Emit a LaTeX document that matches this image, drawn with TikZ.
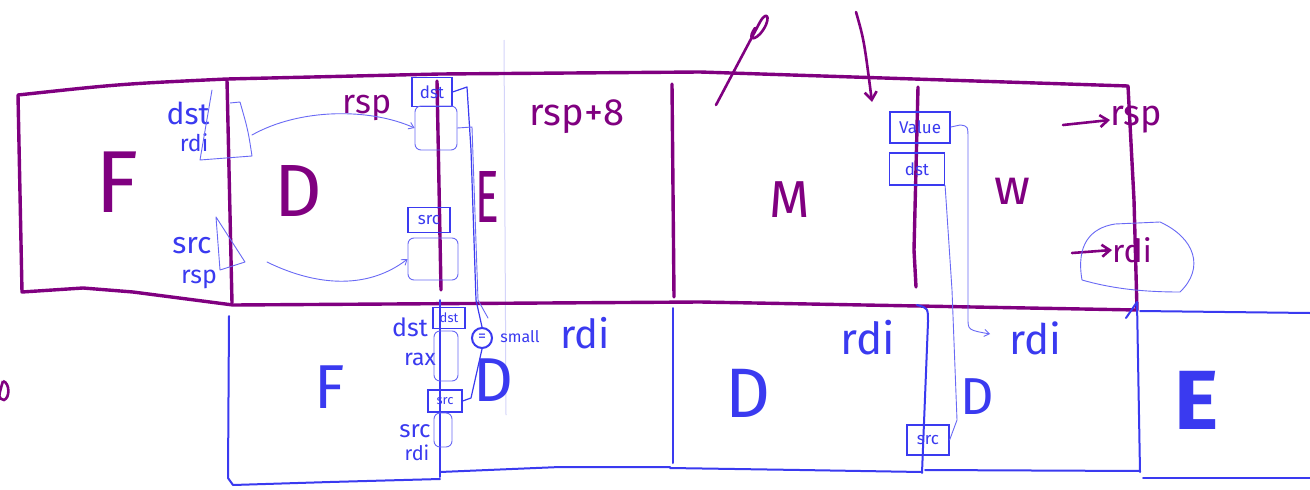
\documentclass[tikz,border=0pt]{standalone}
\usepackage{fontspec}
\setmainfont{Fira Sans}
\usetikzlibrary{arrows.meta}
\definecolor{pur}{RGB}{128,0,128}
\definecolor{blu}{RGB}{58,58,240}
\definecolor{lblu}{RGB}{105,105,245}
\definecolor{vlblu}{RGB}{212,212,250}
\newcommand{\fs}[1]{\fontsize{#1}{#1}\selectfont}
\begin{document}
\begin{tikzpicture}[x=1pt,y=-1pt,
  pline/.style={draw=pur,line width=3.4pt,line cap=round,line join=round},
  parrow/.style={draw=pur,line width=2.6pt,line cap=round,line join=round,-{Straight Barb[length=8pt,width=12pt]}},
  bline/.style={draw=blu,line width=2pt,line cap=round,line join=round},
  tline/.style={draw=lblu,line width=0.9pt,line cap=round,line join=round},
  tarrow/.style={tline,-{Straight Barb[length=5pt,width=7pt]}},
  ptext/.style={text=pur,inner sep=0pt},
  btext/.style={text=blu,inner sep=0pt},
  tag/.style={draw=blu,line width=1.2pt,text=blu,inner sep=0pt,font=\fs{17}},
  slot/.style={draw=lblu,line width=0.9pt,rounded corners=6pt,inner sep=0pt},
]
\useasboundingbox (0,0) rectangle (1310,490);
\fill[white] (0,0) rectangle (1310,490);

% faint guide line
\draw[draw=vlblu,line width=1pt] (504,40) -- (506,415);

% ---------- top row (purple) ----------
\draw[pline] (18,95) .. controls (120,84) .. (227,79) -- (440,74) -- (700,72) -- (1128,86)
  -- (1134,200) -- (1137,310) -- (700,302) -- (233,305) -- (133,292)
  -- (83,288) -- (22,292) -- cycle;
\draw[pline] (227,80) -- (232,303);
\draw[pline] (437,81) -- (441,290);
\draw[pline] (672,84) -- (674,297);
\draw[pline] (918,87) -- (914,250) -- (916,287);

\node[ptext,font=\fs{88}] (F1) at (117,182) {F};
\node[ptext,font=\fs{74}] (D1) at (298,191) {D};
\node[ptext,font=\fs{74}] (E1) at (487,197) {\scalebox{0.6}[1]{E}};
\node[ptext,font=\fs{38}] (rsp8) at (577,117) {rsp+8};
\node[ptext,font=\fs{52}] (M1) at (790,200) {M};
\node[ptext,font=\fs{50}] (W1) at (1012,191) {w};
\node[ptext,font=\fs{34}] (rspP) at (367,108) {rsp};

% marks above M
\coordinate (s1) at (716,105);
\coordinate (s2) at (760,22);
\draw[pline,line width=2.6pt] (s1) -- (s2) .. controls (768,8) and (772,20) .. (760,34)
  .. controls (752,42) and (748,38) .. (755,28);
\coordinate (ain) at (856,12);
\coordinate (aout) at (872,102);
\draw[parrow] (ain) .. controls (864,40) .. (aout);

% right side labels
\coordinate (rspA) at (1063,125);
\node[ptext,font=\fs{36}] (rspR) at (1136,120) {rsp};
\draw[parrow] (rspA) -- (rspR.west);
\coordinate (rdiA) at (1072,253);
\node[ptext,font=\fs{32}] (rdiR) at (1132,250) {rdi};
\draw[parrow] (rdiA) -- (rdiR.west);
\draw[tline] (1082,280) .. controls (1076,245) and (1090,228) .. (1115,224)
  -- (1160,222) .. controls (1195,238) and (1205,268) .. (1180,292)
  .. controls (1140,292) and (1110,288) .. (1082,280);

% left blue labels in F/D
\node[btext,font=\fs{30}] (dstL) at (188,113) {dst};
\node[btext,font=\fs{23}] (rdiL) at (194,143) {rdi};
\node[btext,font=\fs{30}] (srcL) at (192,246) {src};
\node[btext,font=\fs{25}] (rspL) at (199,279) {rsp};
\draw[tline] (212,90) -- (200,160) -- (252,156) .. controls (248,130) .. (240,102) -- (230,103);
\draw[tline] (216,217) -- (220,270) -- (245,262) -- cycle;
\coordinate (tri1) at (252,135);
\coordinate (tri2) at (267,262);

% boxes on D/E border
\node[tag,minimum width=40pt,minimum height=29pt] (dstT) at (432,92) {dst};
\node[slot,minimum width=42pt,minimum height=44pt] (slotT) at (436,128) {};
\node[tag,minimum width=42pt,minimum height=25pt] (srcT) at (429,220) {src};
\node[slot,minimum width=50pt,minimum height=42pt] (slotS) at (433,259) {};
\draw[tarrow] (tri1) .. controls (300,108) and (370,108) .. (slotT.west);
\draw[tarrow] (tri2) .. controls (320,288) and (370,288) .. (slotS.west);

% ---------- second row (blue) ----------
\draw[bline] (229,316) -- (228,478) -- (233,485) -- (330,482) -- (440,479);
\draw[bline] (440,300) -- (440,477);
\draw[bline] (440,472) -- (560,467) -- (670,467);
\draw[bline] (673,308) -- (673,463);
\draw[bline] (670,468) -- (800,470) -- (922,472);
\draw[bline] (917,305) .. controls (928,308) .. (928,322) -- (922,473);
\draw[bline] (925,470) -- (1140,471);
\draw[bline] (1126,318) -- (1137,302) -- (1140,472);
\draw[bline] (1140,311) -- (1310,313);
\draw[bline] (1143,478) -- (1310,478);

\node[btext,font=\fs{62}] (F2) at (330,387) {F};
\node[btext,font=\fs{25}] (dstL2) at (410,327) {dst};
\node[btext,font=\fs{23}] (raxL) at (420,359) {rax};
\node[btext,font=\fs{24}] (srcL2) at (415,431) {src};
\node[btext,font=\fs{20}] (rdiL2) at (417,453) {rdi};
\node[tag,font=\fs{13},minimum width=32pt,minimum height=21pt] (dstB) at (449,318) {dst};
\node[slot,minimum width=24pt,minimum height=50pt] (slotB) at (446,356) {};
\node[tag,font=\fs{13},minimum width=34pt,minimum height=22pt] (srcB) at (445,401) {src};
\node[slot,minimum width=18pt,minimum height=34pt] (slotB2) at (443,430) {};
\node[circle,draw=blu,line width=2pt,minimum size=20pt,inner sep=0pt,text=blu,font=\fs{16}] (eq) at (482,338) {=};
\node[btext,font=\fs{16}] (small) at (520,337) {small};
\node[btext,font=\fs{40}] (rdi2) at (585,333) {rdi};
\node[btext,font=\fs{62}] (D2) at (493,380) {D};
\draw[bline,line width=1.2pt] (dstT.east) -- (467,87) -- (471,150) -- (476,300) -- (eq.north);
\draw[tline] (slotT.east) -- (472,127) -- (478,300) -- (488,318);
\draw[bline,line width=1.2pt] (eq.south) -- (471,398) -- (srcB.east);

\node[btext,font=\fs{70}] (D3) at (748,393) {D};
\node[btext,font=\fs{44}] (rdi3) at (868,338) {rdi};
\node[btext,font=\fs{52}] (D4) at (977,397) {D};
\node[btext,font=\fs{42}] (rdi4) at (1035,338) {rdi};
\node[tag,minimum width=42pt,minimum height=30pt] (srcW) at (928,440) {src};
\node[btext,font=\fs{84}\bfseries] (E2) at (1197,400) {E};

% W boxes
\node[tag,line width=2pt,minimum width=60pt,minimum height=31pt] (val) at (920,127) {Value};
\node[tag,minimum width=55pt,minimum height=32pt] (dstW) at (917,169) {dst};
\coordinate (valtip) at (990,334);
\draw[tarrow] (val.east) -- (960,125) .. controls (968,126) .. (968,140) -- (968,318)
  .. controls (968,330) .. (valtip);
\draw[tline] (dstW.south east) -- (952,290) -- (957,420) -- (srcW.east);

% cut-off mark at left edge
\draw[pur,line width=2.6pt] (3,381) .. controls (10,383) and (10,398) .. (4,400) .. controls (-2,398) .. (3,381);
\end{tikzpicture}
\end{document}
